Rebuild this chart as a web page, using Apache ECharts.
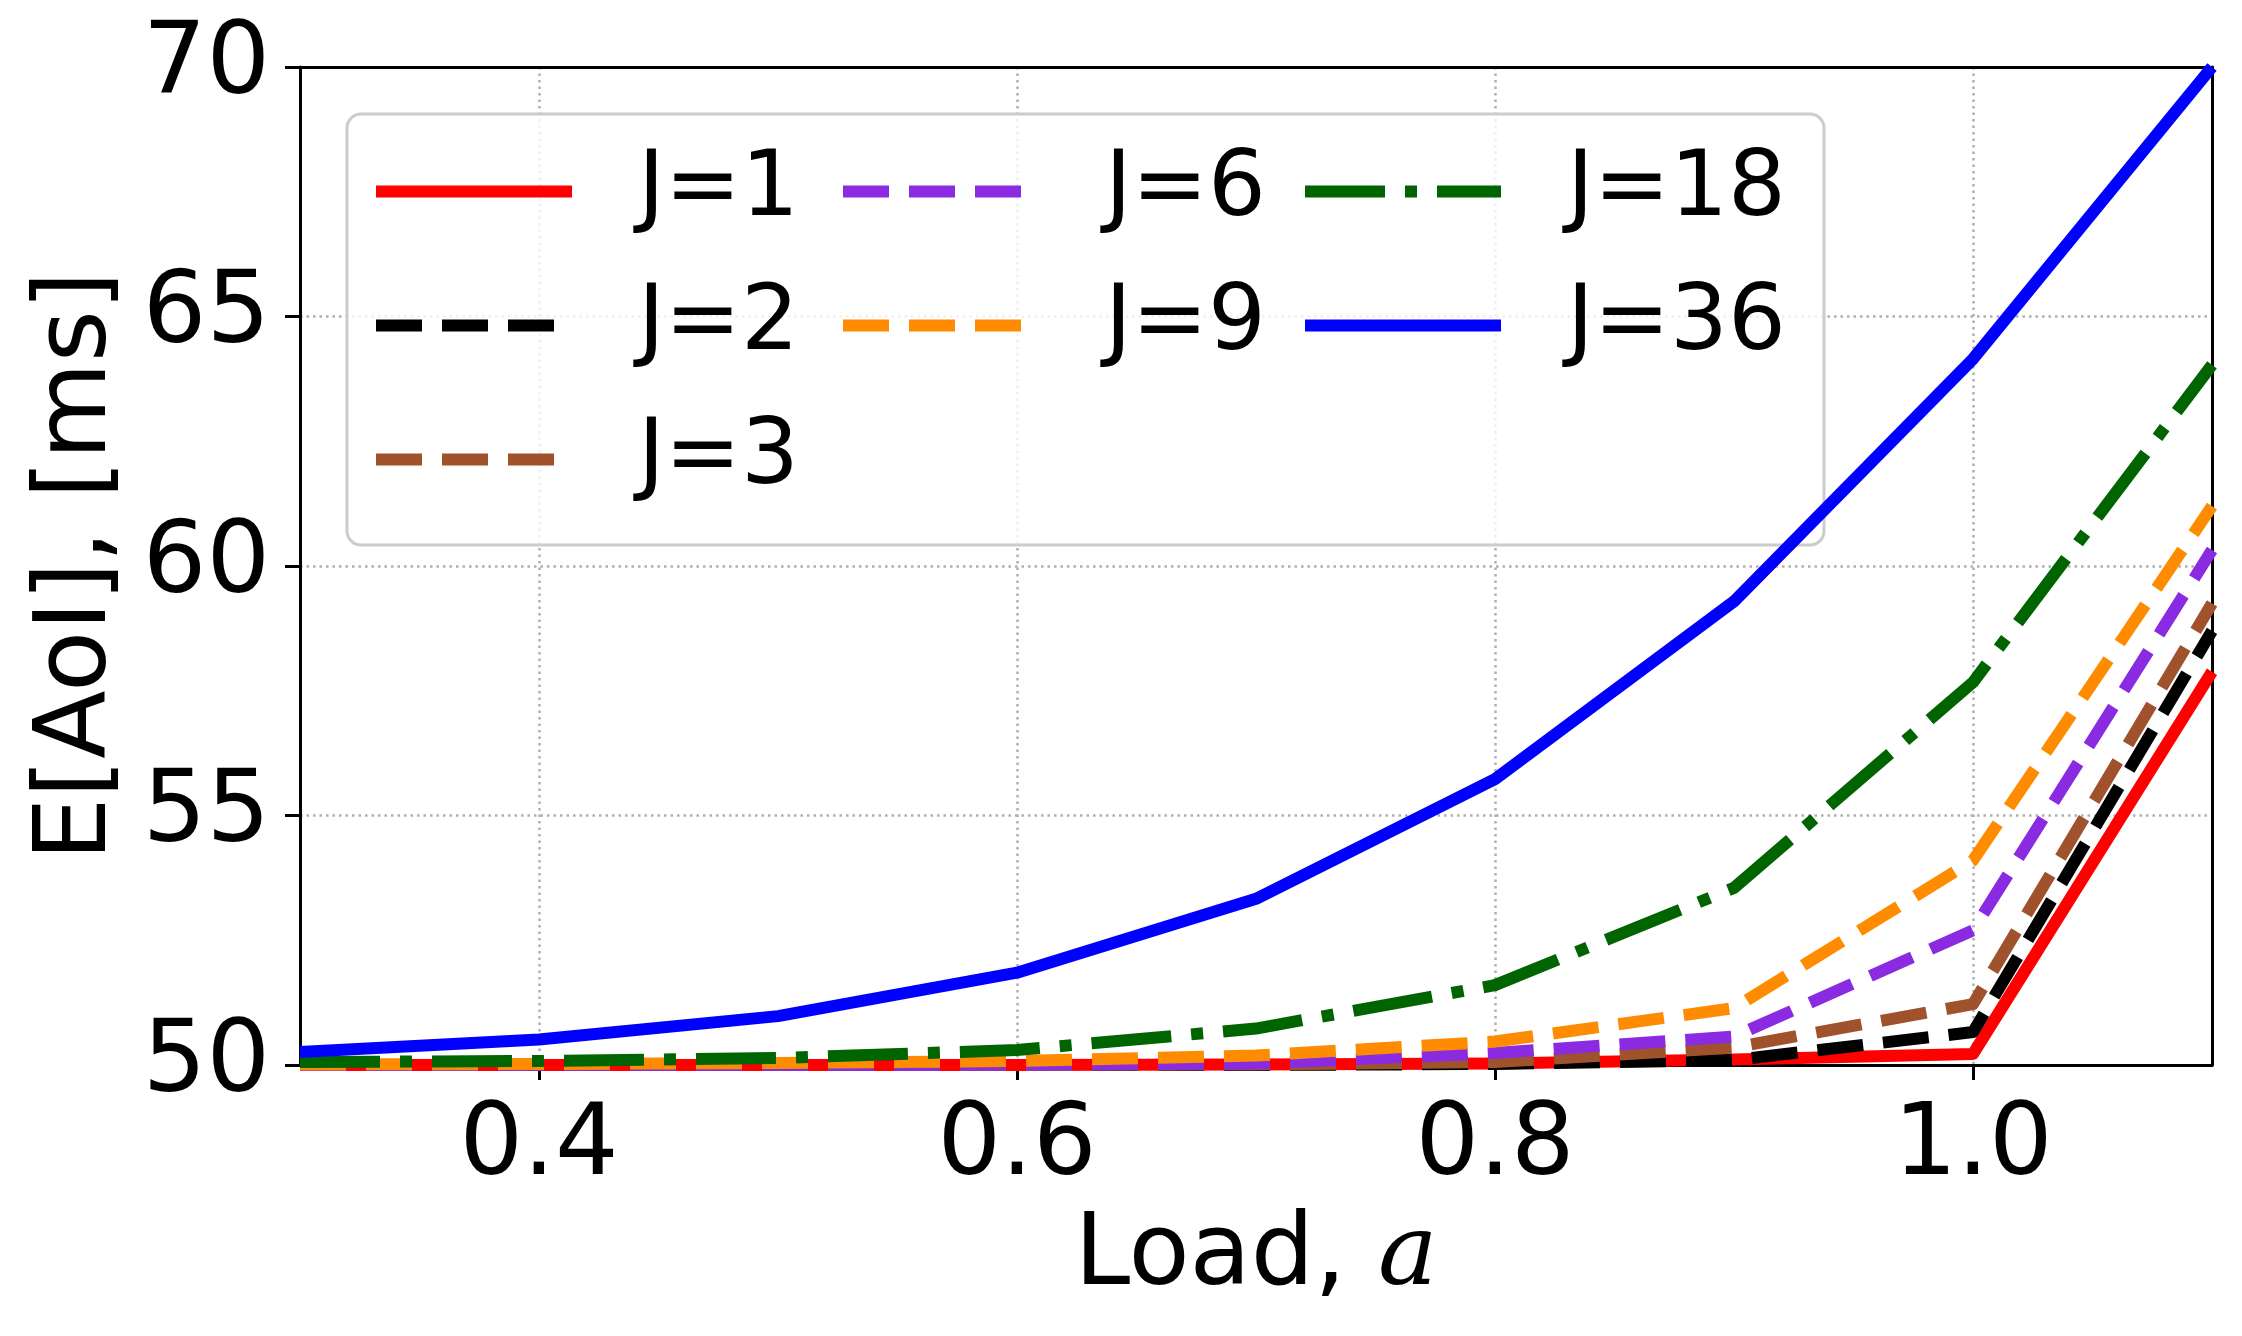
<!DOCTYPE html>
<html>
<head>
<meta charset="utf-8">
<script src="https://cdn.jsdelivr.net/npm/echarts@6/dist/echarts.min.js"></script>
<style>
  html, body { margin: 0; padding: 0; background: #fff; }
  #line { width: 2242px; height: 1336px; }
</style>
</head>
<body>
<div id="line"></div>
<script>
// load values (x axis)
const loads = ['0.3', '0.4', '0.5', '0.6', '0.7', '0.8', '0.9', '1.0', '1.1'];
const yTicks = [50, 55, 60, 65, 70];

// E[AoI] in ms
const j1  = [50.0, 50.0, 50.0, 50.0, 50.01, 50.03, 50.11, 50.22, 57.88];
const j2  = [50.0, 50.0, 50.0, 50.0, 50.0, 50.02, 50.1, 50.66, 58.7];
const j3  = [50.0, 50.0, 50.0, 50.0, 50.01, 50.06, 50.35, 51.22, 59.25];
const j6  = [50.0, 50.0, 50.0, 50.01, 50.03, 50.24, 50.57, 52.7, 60.32];
const j9  = [50.01, 50.02, 50.04, 50.08, 50.19, 50.47, 51.14, 54.1, 61.2];
const j18 = [50.06, 50.08, 50.14, 50.3, 50.73, 51.6, 53.55, 57.67, 64.03];
const j36 = [50.26, 50.51, 50.98, 51.85, 53.33, 55.73, 59.29, 64.15, 70.0];

const font = 'DejaVu Sans';
const dash = [46, 20];
const dashDot = [80, 20, 12, 20];
const gridLine = { color: '#b0b0b0', width: 2.5, type: [2.5, 4] };
const frame = { color: '#000', width: 3 };

function mkSeries(name, data, color, type) {
  return {
    name: name,
    type: 'line',
    data: data,
    symbol: 'none',
    clip: true,
    lineStyle: { color: color, width: 12, type: type, cap: 'butt', join: 'round' },
    itemStyle: { color: color }
  };
}

const everyOther = function (idx) { return idx % 2 === 1; };

function mkLegend(left, names) {
  return {
    orient: 'vertical',
    left: left,
    top: 146,
    padding: 0,
    itemWidth: 196,
    itemHeight: 100,
    itemGap: 43,
    z: 5,
    data: names,
    // hide the round marker, keep only the line
    itemStyle: { color: 'rgba(0,0,0,0)', borderWidth: 0, opacity: 0 },
    lineStyle: { width: 12, type: 'inherit' },
    textStyle: { fontFamily: font, fontSize: 91, color: '#000', padding: [0, 0, 0, 61] }
  };
}

let myChart = echarts.init(document.getElementById('line'));
let option = {
  animation: false,
  backgroundColor: '#fff',
  grid: {
    left: 300,
    right: 30,
    top: 67,
    bottom: 271,
    containLabel: false,
    outerBoundsMode: 'none'
  },
  legend: [
    mkLegend(370, ['J=1', 'J=2', 'J=3']),
    mkLegend(837, ['J=6', 'J=9']),
    mkLegend(1299, ['J=18', 'J=36'])
  ],
  graphic: [{
    type: 'rect',
    z: 3,
    shape: { x: 347, y: 114, width: 1477, height: 431, r: 14 },
    style: { fill: 'rgba(255,255,255,0.8)', stroke: '#cccccc', lineWidth: 3 }
  }],
  xAxis: [{
    type: 'category',
    data: loads,
    boundaryGap: false,
    name: 'Load, {i|a}',
    nameLocation: 'middle',
    nameGap: 143,
    nameMoveOverlap: false,
    nameTextStyle: {
      fontFamily: font, fontSize: 100, color: '#000',
      rich: { i: { fontFamily: 'DejaVu Serif', fontStyle: 'italic', fontSize: 100, color: '#000' } }
    },
    axisLine: { show: true, lineStyle: frame },
    axisTick: { show: true, interval: everyOther, length: 15, lineStyle: frame },
    axisLabel: { interval: everyOther, fontFamily: font, fontSize: 100, color: '#000', margin: 33 },
    splitLine: { show: true, interval: everyOther, lineStyle: gridLine }
  }, {
    // top spine
    type: 'category',
    position: 'top',
    data: loads,
    boundaryGap: false,
    axisLine: { show: true, lineStyle: frame },
    axisTick: { show: false },
    axisLabel: { show: false },
    splitLine: { show: false }
  }],
  yAxis: [{
    type: 'value',
    min: yTicks[0],
    max: yTicks[yTicks.length - 1],
    interval: 5,
    name: 'E[AoI], [ms]',
    nameLocation: 'middle',
    nameGap: 171,
    nameMoveOverlap: false,
    nameTextStyle: { fontFamily: font, fontSize: 100, color: '#000' },
    axisLine: { show: true, lineStyle: frame },
    axisTick: { show: true, length: 15, lineStyle: frame },
    axisLabel: { fontFamily: font, fontSize: 100, color: '#000', margin: 30 },
    splitLine: { show: true, showMinLine: false, showMaxLine: false, lineStyle: gridLine }
  }, {
    // right spine
    type: 'value',
    position: 'right',
    min: yTicks[0],
    max: yTicks[yTicks.length - 1],
    interval: 5,
    axisLine: { show: true, lineStyle: frame },
    axisTick: { show: false },
    axisLabel: { show: false },
    splitLine: { show: false }
  }],
  series: [
    mkSeries('J=1', j1, '#ff0000', 'solid'),
    mkSeries('J=2', j2, '#000000', dash),
    mkSeries('J=3', j3, '#a0522d', dash),
    mkSeries('J=6', j6, '#8a2be2', dash),
    mkSeries('J=9', j9, '#ff8c00', dash),
    mkSeries('J=18', j18, '#006400', dashDot),
    mkSeries('J=36', j36, '#0000ff', 'solid')
  ]
};
myChart.setOption(option);
</script>
</body>
</html>
